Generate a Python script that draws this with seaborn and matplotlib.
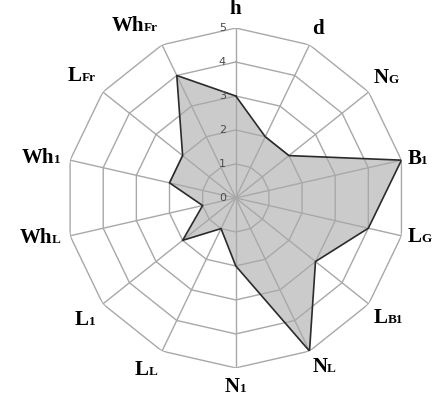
import numpy as np
import pandas as pd
import matplotlib
matplotlib.use("Agg")
import matplotlib.pyplot as plt
import matplotlib.transforms as mtrans
from matplotlib.offsetbox import TextArea, HPacker, AnnotationBbox
import seaborn as sns

# ---- data ----
main_labels = ["h", "d", "N", "B", "L", "L", "N", "N", "L", "L", "Wh", "Wh", "L", "Wh"]
sub_labels = ["", "", "G", "1", "G", "B1", "L", "1", "L", "1", "L", "1", "Fr", "Fr"]
values = [3, 2, 2, 5, 4, 3, 5, 2, 1, 2, 1, 2, 2, 4]
ticks = [0, 1, 2, 3, 4, 5]

sns.set_theme(style="white")
plt.rcParams["font.family"] = ["DejaVu Sans"]

n = len(values)
angles = np.arange(n) * 2 * np.pi / n

fig = plt.figure(figsize=(4.33, 4.01), dpi=100)
ax = fig.add_axes([0.152, 0.0823, 0.785, 0.848], projection="polar")
ax.set_theta_zero_location("N")
ax.set_theta_direction(-1)
ax.set_ylim(0, 5)
ax.grid(False)
ax.spines["polar"].set_visible(False)
ax.set_xticks([])
ax.set_yticks([])
ax.set_facecolor("white")

grid_color = "#a8a8a8"
closed_ang = np.append(angles, angles[0])
for k in ticks[1:]:
    ax.plot(closed_ang, [k] * (n + 1), color=grid_color, lw=1.0, zorder=1)
for a in angles:
    ax.plot([a, a], [0, 5], color=grid_color, lw=1.0, zorder=1)

df = pd.DataFrame({"angle": closed_ang, "value": np.append(values, values[0])})
ax.fill(df["angle"], df["value"], color="#a9a9a9", alpha=0.6, lw=0, zorder=2)
sns.lineplot(data=df, x="angle", y="value", sort=False, estimator=None,
             color="#2b2b2b", lw=1.2, ax=ax, zorder=3)
ax.set_xlabel("")
ax.set_ylabel("")

# radial tick labels
off = mtrans.offset_copy(ax.transData, fig=fig, x=-7, y=0, units="points")
for k in ticks:
    ax.text(0, k, str(k), transform=off, ha="right", va="center",
            fontsize=8, color="#4a4a4a", zorder=4)

# axis labels (main text + small baseline-aligned suffix)
serif = "Liberation Serif"
for a, m, s in zip(angles, main_labels, sub_labels):
    parts = [TextArea(m, textprops=dict(fontsize=15, fontweight="bold",
                                        family=serif, color="black"))]
    if s:
        parts.append(TextArea(s, textprops=dict(fontsize=9.5, fontweight="bold",
                                                family=serif, color="black")))
    box = HPacker(children=parts, align="baseline", pad=0, sep=0)
    sx = np.sin(a)
    cy = np.cos(a)
    if abs(sx) < 0.15:
        bx = 0.5
    elif sx > 0:
        bx = 0.0
    else:
        bx = 1.0
    if abs(cy) < 0.3:
        by = 0.5
    elif cy > 0:
        by = 0.0
    else:
        by = 1.0
    r = 5.18 if sx > 0.15 else 5.28
    ab = AnnotationBbox(box, (a, r), xycoords="data", box_alignment=(bx, by),
                        frameon=False, pad=0, annotation_clip=False)
    ax.add_artist(ab)

fig.savefig("out.png", dpi=100, facecolor="white")
